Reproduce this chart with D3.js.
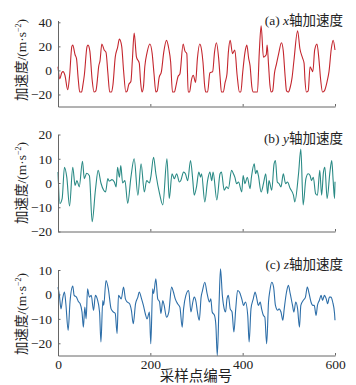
<!DOCTYPE html>
<html><head><meta charset="utf-8">
<script src="https://cdn.jsdelivr.net/npm/d3@7"></script>
<style>
html,body{margin:0;padding:0;background:#fff;}
svg{display:block;}
</style></head>
<body>
<svg id="chart" width="356" height="385"></svg>
<script>
// ---- data (sample index, value) ----
const accX = [[0,3],[4,-7],[8,-2],[11,-1],[15,-4],[21,-16],[25,-5],[30,20],[32,21],[37,13],[40,10],[44,-8],[47,-18],[51,-18],[54,-12],[57,-4],[63,20],[65,21],[69,16],[74,-8],[78,-18],[82,-17],[86,-5],[88,3],[91,8],[95,22],[100,17],[104,15],[108,-2],[112,-18],[116,-18],[119,-12],[124,11],[129,19],[133,26],[138,20],[142,0],[147,-18],[150,-17],[153,-12],[158,-9],[161,8],[165,31],[170,11],[176,6],[179,-10],[182,-18],[185,-14],[188,3],[193,15],[199,22],[204,14],[208,-3],[212,-18],[215,-17],[219,-6],[224,-1],[229,15],[235,25],[240,18],[244,7],[248,-18],[252,-18],[256,-12],[260,-5],[264,-3],[271,22],[275,16],[279,14],[282,-18],[285,-18],[289,-8],[293,-4],[298,-10],[302,10],[307,22],[311,17],[314,7],[318,-14],[320,-18],[324,-18],[329,-2],[335,-1],[339,15],[343,23],[348,10],[351,-5],[354,-18],[358,-18],[362,-10],[366,-3],[369,15],[373,25],[378,14],[383,17],[388,-4],[393,-18],[396,-18],[400,-2],[405,15],[409,21],[413,10],[416,4],[420,-14],[423,-18],[432,-18],[436,15],[440,37],[445,11],[451,13],[453,21],[456,5],[459,-12],[462,-18],[465,-17],[469,-2],[473,5],[478,14],[484,23],[488,16],[492,-5],[495,-17],[499,-18],[503,-14],[507,-6],[511,8],[519,33],[524,18],[530,10],[533,6],[535,-8],[538,-18],[542,-17],[546,3],[552,-1],[556,17],[561,22],[565,10],[569,-8],[573,-18],[577,-17],[583,-9],[587,-1],[592,18],[596,25],[600,17]];
const accY = [[0,4.5],[4,-8.4],[9,-6.4],[14,6.5],[19,2.4],[25,-9.5],[32,6.5],[37,-1],[41,1],[46,-1.6],[53,9],[57,1.8],[62,4],[68,3],[74,-16],[81,-3],[87,5.2],[93,0],[99,-3],[103,-3.7],[108,1.8],[111,0.8],[117,1.4],[122,0.4],[126,-1.6],[129,6.5],[133,2.4],[136,7.2],[140,0],[145,1],[151,-8.4],[158,2.4],[165,10],[173,-5],[180,7.9],[187,-3.7],[192,1],[198,0],[201,2.4],[207,10.6],[212,3.8],[220,-4.4],[227,-9],[236,10],[241,-6.4],[247,3.8],[252,1.8],[257,3.8],[263,0.4],[266,1],[272,4.5],[276,3.8],[281,1],[287,9.3],[292,1],[295,-5],[300,-1.6],[305,4.5],[309,2.4],[311,3.8],[318,-7.8],[324,1],[329,4.5],[333,1],[336,4.5],[344,-7],[351,3.8],[354,4.5],[360,-3],[365,-1.6],[369,-2.3],[376,5.2],[380,3.8],[383,2.4],[387,-0.3],[391,0.4],[398,-3.7],[401,3.1],[405,-0.3],[410,2.4],[416,-2.3],[419,2.4],[425,7.9],[428,3.8],[431,5.2],[434,3.1],[440,-3.7],[445,-0.3],[450,3.8],[454,-4.4],[457,1],[463,-3],[468,7.9],[471,9.3],[475,0.4],[479,-0.3],[483,-1.6],[488,3.8],[493,-0.3],[497,0.4],[503,-2.3],[510,-5],[513,-7.8],[521,3.8],[526,14],[531,-9],[537,1.8],[542,3.8],[546,3.1],[549,1],[553,2.4],[558,-4.4],[562,-5],[567,5.2],[571,-5],[575,4.5],[578,6.5],[583,-6.4],[589,4.5],[593,9.3],[596,1],[599,-6.4],[600,0.5]];
const accZ = [[0,3],[3,-0.4],[6.5,-5.9],[10,-1.8],[14,1],[17,-3.8],[22,-14.7],[26,-3.1],[32,3.4],[35,-0.4],[40,-1.1],[44,-2.9],[48,-3.8],[52,-7.2],[55,-13.4],[58,-5.2],[61,-10],[64,2.3],[68,-1.1],[72,-0.4],[77,-6.5],[81,-0.4],[85,-1.8],[90,-7.2],[93,-19.5],[97,-2.5],[99,-4.5],[104,5.7],[109,2.3],[115,-5.9],[120,-7.2],[124,-7.8],[128,-16],[131,-0.4],[137,-1.8],[142,3],[146,-1.8],[150,-3.1],[155,-3.8],[159,-6.5],[163,-12],[168,-3.8],[173,-1.1],[176,1],[181,-1.8],[185,-4.5],[189,-7.8],[193,-10],[198,-7.2],[201,-20.2],[205,2.3],[207,0.3],[212,6.4],[216,-1.8],[220,-3.1],[223,-7.8],[227,-2.5],[230,-4.5],[235,-9.3],[240,-7.2],[246,3],[250,1],[254,-1.8],[259,-3.8],[264,-5.2],[269,-13.4],[272,-5.9],[277,-0.4],[283,1.6],[288,-7.2],[292,-3.1],[295,-1.1],[299,-3.1],[302,-7.2],[306,-10.6],[310,-1.1],[313,1.6],[318,5],[323,0.3],[328,-3.1],[331,-1.8],[334,-7.2],[339,-8.6],[342,-12.7],[345,-25],[349,-3.1],[352,10.5],[356,-0.4],[360,-5.9],[363,-7.2],[366,-1.8],[369,-0.4],[373,-5.9],[377,-7.2],[381,-15.4],[385,-5.9],[389,1.6],[393,1],[398,-1.8],[402,-4.5],[406,-3.1],[411,-8.6],[414,-19.5],[418,-5.9],[423,-1.8],[427,1],[430,-1.1],[434,-4.5],[438,-3.1],[441,-5.9],[445,-8.6],[448,-9.3],[452,-20.2],[456,-3.1],[459,1.6],[463,5],[467,3],[471,-4.5],[476,-6.5],[479,-5.9],[483,-7.2],[487,-10.6],[490,-5.9],[495,1],[499,3.7],[503,0.3],[508,-4.5],[511,-7.2],[515,-3.1],[519,-5.9],[523,-13.4],[526,-4.5],[531,-2.5],[536,-1.1],[540,3],[544,0.3],[548,-3.1],[552,-4.5],[555,-4.5],[559,-8.6],[562,-4.5],[566,-2.5],[570,-0.4],[573,-2.5],[577,-0.4],[581,-1.8],[584,-3.8],[588,-1.1],[591,-1.1],[595,-3.1],[599,-7.8],[600,-10.6]];

const xTicks = [0, 200, 400, 600];
const yTicksA = [-20, 0, 20, 40];
const yTicksB = [-20, -10, 0, 10, 20];
const yTicksC = [-20, -10, 0, 10];
const panelLetters = ["(a)", "(b)", "(c)"];
const axisNames = ["x", "y", "z"];
const titleSuffix = "轴加速度";
const yLabelMain = "加速度/(m·s";
const xLabel = "采样点编号";

// ---- layout ----
const svg = d3.select("#chart");
const LATIN = "'Liberation Serif','Times New Roman',serif";
const MIXED = "'Liberation Serif','Noto Sans CJK SC',serif";
const x = d3.scaleLinear().domain([0, 600]).range([58, 335]);

const panels = [
  {data: accX, color: "#c4262e", domain: [-30, 41.5], range: [106.5, 20.5], ticks: yTicksA, labelY: 60, titleY: 25, showX: false},
  {data: accY, color: "#2a8a85", domain: [-20, 20], range: [231.5, 134.5], ticks: yTicksB, labelY: 183, titleY: 143, showX: false},
  {data: accZ, color: "#2d6ea8", domain: [-25, 10], range: [355.5, 270], ticks: yTicksC, labelY: 314, titleY: 269, showX: true}
];

const fmt = d3.format("");

panels.forEach((p, i) => {
  const y = d3.scaleLinear().domain(p.domain).range(p.range);
  const g = svg.append("g");

  // line
  const line = d3.line().x(d => x(d[0])).y(d => y(d[1])).curve(d3.curveMonotoneX);
  g.append("path").datum(p.data)
    .attr("d", line).attr("fill", "none")
    .attr("stroke", p.color).attr("stroke-width", 1.1).attr("stroke-linejoin", "round");

  // y axis
  const ya = g.append("g").attr("transform", `translate(${x.range()[0]},0)`)
    .call(d3.axisLeft(y).tickValues(p.ticks).tickSize(-2.5).tickSizeOuter(0).tickPadding(6).tickFormat(fmt));
  // x axis
  const xa = g.append("g").attr("transform", `translate(0,${p.range[0]})`)
    .call(d3.axisBottom(x).tickValues(xTicks).tickSize(-2.5).tickSizeOuter(0).tickPadding(4)
      .tickFormat(p.showX ? fmt : () => ""));
  [ya, xa].forEach(a => {
    a.select(".domain").attr("stroke", "#666").attr("stroke-width", 1);
    a.selectAll(".tick line").attr("stroke", "#666");
    a.selectAll("text").attr("font-family", LATIN).attr("font-size", 13.5).attr("fill", "#222");
  });

  // y label
  const yl = svg.append("text")
    .attr("transform", `translate(26,${p.labelY}) rotate(-90)`)
    .attr("text-anchor", "middle")
    .attr("font-family", MIXED).attr("font-size", 13.5).attr("fill", "#222");
  yl.append("tspan").text(yLabelMain);
  yl.append("tspan").attr("font-size", 8).attr("dy", -5).text("−2");
  yl.append("tspan").attr("dy", 5).text(")");

  // panel title
  const t = svg.append("text")
    .attr("x", 343).attr("y", p.titleY).attr("text-anchor", "end")
    .attr("font-family", MIXED).attr("font-size", 13.5).attr("fill", "#222");
  t.append("tspan").text(panelLetters[i] + " ");
  t.append("tspan").attr("font-style", "italic").text(axisNames[i]);
  t.append("tspan").text(titleSuffix);
});

svg.append("text").attr("x", 196).attr("y", 381).attr("text-anchor", "middle")
  .attr("font-family", "'Noto Sans CJK SC',sans-serif").attr("font-size", 14.5).attr("fill", "#222")
  .text(xLabel);
</script>
</body></html>
